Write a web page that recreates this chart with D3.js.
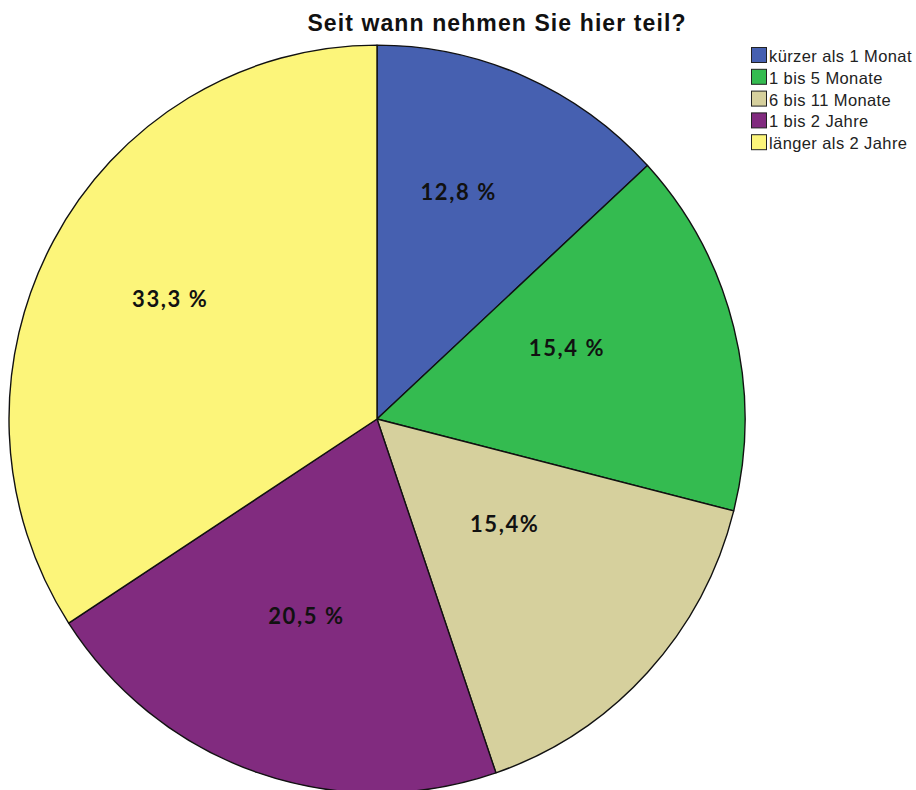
<!DOCTYPE html>
<html>
<head>
<meta charset="utf-8">
<script src="https://cdn.jsdelivr.net/npm/d3@7"></script>
<style>
  html, body { margin: 0; padding: 0; background: #ffffff; }
  svg { display: block; }
</style>
</head>
<body>
<svg id="chart" width="916" height="790"></svg>
<script>
// Survey answers: how long the respondents have been taking part
const categories = ["kürzer als 1 Monat", "1 bis 5 Monate", "6 bis 11 Monate", "1 bis 2 Jahre", "länger als 2 Jahre"];
const percentages = [12.8, 15.4, 15.4, 20.5, 33.3];
const valueLabels = ["12,8 %", "15,4 %", "15,4%", "20,5 %", "33,3 %"];
const sliceColors = ["#4660b0", "#34bb50", "#d6d09d", "#812b7f", "#fcf57a"];
const chartTitle = "Seit wann nehmen Sie hier teil?";

// Label placement: fraction of the radius and a small angular nudge (degrees)
const labelRadius = [0.647, 0.55, 0.446, 0.56, 0.647];
const labelNudge = [-3.6, -5.9, -3.8, 1.0, 1.3];

const svg = d3.select("#chart");
const cx = 377, cy = 419, r = 368, sy = 1.016;

svg.append("text")
  .attr("x", 497)
  .attr("y", 31)
  .attr("text-anchor", "middle")
  .attr("font-family", "'Liberation Sans', Arial, sans-serif")
  .attr("font-weight", "bold")
  .attr("font-size", 23)
  .attr("letter-spacing", 1.1)
  .attr("fill", "#111")
  .text(chartTitle);

const pie = d3.pie().sort(null).value(d => d);
const arcs = pie(percentages);
const arc = d3.arc().innerRadius(0).outerRadius(r);

const g = svg.append("g")
  .attr("transform", `translate(${cx},${cy}) scale(1,${sy})`);

g.selectAll("path")
  .data(arcs)
  .join("path")
  .attr("d", arc)
  .attr("fill", (d, i) => sliceColors[i])
  .attr("stroke", "#111")
  .attr("stroke-width", 1.4)
  .attr("stroke-linejoin", "round");

svg.append("g")
  .selectAll("text")
  .data(arcs)
  .join("text")
  .attr("x", (d, i) => {
    const a = (d.startAngle + d.endAngle) / 2 + labelNudge[i] * Math.PI / 180;
    return cx + Math.sin(a) * r * labelRadius[i];
  })
  .attr("y", (d, i) => {
    const a = (d.startAngle + d.endAngle) / 2 + labelNudge[i] * Math.PI / 180;
    return cy - Math.cos(a) * r * labelRadius[i] * sy;
  })
  .attr("dy", "0.36em")
  .attr("text-anchor", "middle")
  .attr("font-family", "Lato, 'Open Sans', sans-serif")
  .attr("font-weight", "bold")
  .attr("font-size", 22)
  .attr("letter-spacing", 1.6)
  .attr("fill", "#111")
  .text((d, i) => valueLabels[i]);

const legend = svg.append("g").attr("transform", "translate(751,47)");
const rows = legend.selectAll("g")
  .data(categories)
  .join("g")
  .attr("transform", (d, i) => `translate(0,${i * 21.8})`);

rows.append("rect")
  .attr("x", 0.5)
  .attr("y", 0.5)
  .attr("width", 15)
  .attr("height", 15)
  .attr("fill", (d, i) => sliceColors[i])
  .attr("stroke", "#222")
  .attr("stroke-width", 1);

rows.append("text")
  .attr("x", 18)
  .attr("y", 15)
  .attr("font-family", "'Liberation Sans', Arial, sans-serif")
  .attr("font-size", 16.5)
  .attr("letter-spacing", 0.4)
  .attr("fill", "#222")
  .text(d => d);
</script>
</body>
</html>
